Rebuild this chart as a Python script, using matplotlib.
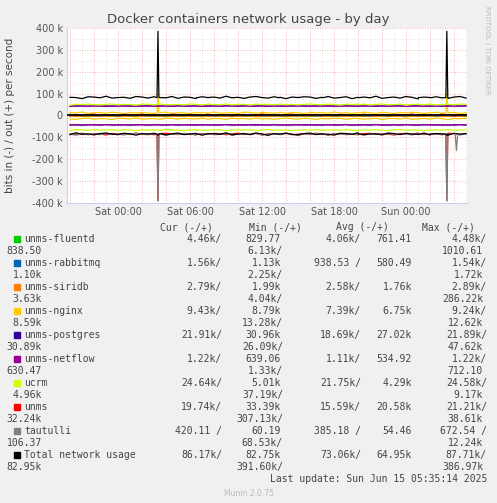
import numpy as np
import matplotlib
matplotlib.use("Agg")
import matplotlib.pyplot as plt

# ---- data ----
hours = [h * 0.5 for h in range(-8, 59)]          # hours relative to Sat 00:00 (67 points)
jitter = [2, -3, 1, 4, -2, 0, 3, -4, 1, 2, -1, 5, -3, 0, 2, -2, 4, 1, -5, 2,
          0, 3, -1, -3, 2, 4, -2, 1, 0, -4, 3, 2, -1, 5, -2, 0, 1, -3, 4, 2,
          -2, 3, 0, -1, 4, -3, 2, 1, -4, 3, 0, 2, -2, 5, -1, 1, -3, 2, 4, 0,
          -2, 3, 1, -4, 2, 0, 3]
gap_hours = [6.6, 13.4, 17.1, 20.1, 25.1, 26.1]
spike_hours = [3.33, 27.4]

series_names = ["unms-fluentd", "unms-rabbitmq", "unms-siridb", "unms-nginx", "unms-postgres",
                "unms-netflow", "ucrm", "unms", "tautulli", "Total network usage"]
series_colors = ["#00CC00", "#0066B3", "#FF8000", "#FFCC00", "#330099",
                 "#990099", "#CCFF00", "#FF0000", "#808080", "#000000"]
out_level = [4, 1, 3, 12, 43, 43, 50, 2, 1, 82]        # k, positive side
in_level = [-4, -1, -3, -15, -43, -43, -67, -85, -86, -85]  # k, negative side
jit_scale = [0.1, 0.05, 0.3, 0.8, 0.3, 0.3, 0.6, 1.0, 1.0, 1.2]
spike_out = [0, 0, 0, 100, 0, 0, 60, 0, 0, 385]
spike_in = [0, 0, 0, 0, 0, 0, 0, -390, -390, -90]

cur1 = ["4.46k/", "1.56k/", "2.79k/", "9.43k/", "21.91k/", "1.22k/", "24.64k/", "19.74k/", "420.11 /", "86.17k/"]
min1 = ["829.77", "1.13k", "1.99k", "8.79k", "30.96k", "639.06", "5.01k", "33.39k", "60.19", "82.75k"]
avg1 = ["4.06k/", "938.53 /", "2.58k/", "7.39k/", "18.69k/", "1.11k/", "21.75k/", "15.59k/", "385.18 /", "73.06k/"]
avg2 = ["761.41", "580.49", "1.76k", "6.75k", "27.02k", "534.92", "4.29k", "20.58k", "54.46", "64.95k"]
max1 = ["4.48k/", "1.54k/", "2.89k/", "9.24k/", "21.89k/", "1.22k/", "24.58k/", "21.21k/", "672.54 /", "87.71k/"]
wrap1 = ["838.50", "1.10k", "3.63k", "8.59k", "30.89k", "630.47", "4.96k", "32.24k", "106.37", "82.95k"]
wrap2 = ["6.13k/", "2.25k/", "4.04k/", "13.28k/", "26.09k/", "1.33k/", "37.19k/", "307.13k/", "68.53k/", "391.60k/"]
wrap3 = ["1010.61", "1.72k", "286.22k", "12.62k", "47.62k", "712.10", "9.17k", "38.61k", "12.24k", "386.97k"]

xticks = [0, 6, 12, 18, 24]
xticklabels = ["Sat 00:00", "Sat 06:00", "Sat 12:00", "Sat 18:00", "Sun 00:00"]
yticks = [-400, -300, -200, -100, 0, 100, 200, 300, 400]

# ---- figure ----
W, H = 497, 503
fig = plt.figure(figsize=(W / 100, H / 100), dpi=100, facecolor="#F0F0F0")
ax = fig.add_axes([67 / W, 1 - 203 / H, 400 / W, 175 / H], facecolor="white")
xmin, xmax = -4.25, 29.08
ax.set_xlim(xmin, xmax)
ax.set_ylim(-400, 400)

# grid
for h in np.arange(-4, 30, 1):
    ax.axvline(h, color="#DDDDDD" if h % 2 else "#F2A0A0", lw=0.6, ls=(0, (1, 2)), zorder=0)
for v in range(-400, 401, 50):
    ax.axhline(v, color="#F2A0A0" if v % 100 == 0 else "#DDDDDD", lw=0.6, ls=(0, (1, 2)), zorder=0)


def build(level, scale, shift, spike):
    t = list(hours)
    y = [level + scale * jitter[(i + shift) % len(jitter)] for i in range(len(hours))]
    for sh in spike_hours:
        if spike:
            t += [sh - 0.08, sh, sh + 0.08]
            y += [level, spike, level]
    for g in gap_hours:
        t += [g - 0.05, g, g + 0.05]
        y += [level, np.nan, level]
    order = np.argsort(t, kind="stable")
    return np.array(t)[order], np.array(y, dtype=float)[order]


for i in range(len(series_names)):
    t, y = build(out_level[i], jit_scale[i], i * 3, spike_out[i])
    ax.plot(t, y, color=series_colors[i], lw=0.9, zorder=2 + i)
    t, y = build(in_level[i], jit_scale[i], i * 5 + 7, spike_in[i])
    ax.plot(t, y, color=series_colors[i], lw=0.9, zorder=2 + i)
ax.plot([28.1, 28.2, 28.3], [-86, -160, -86], color="#808080", lw=0.9, zorder=11)
ax.axhline(0, color="black", lw=1.2, zorder=12)

ax.set_xticks(xticks)
ax.set_xticklabels(xticklabels, fontsize=7, color="#555555")
ax.set_yticks(yticks)
ax.set_yticklabels([f"{v} k" if v != 0 else "0" for v in yticks], fontsize=7, color="#555555")
ax.tick_params(length=0, pad=3)
for s in ax.spines.values():
    s.set_visible(False)
ax.spines["left"].set_visible(True)
ax.spines["bottom"].set_visible(True)
ax.spines["left"].set_color("#CCCCFF")
ax.spines["bottom"].set_color("#CCCCFF")

fig.text(248 / W, 1 - 19 / H, "Docker containers network usage - by day",
         ha="center", va="center", fontsize=9.5, color="#444444")
fig.text(10 / W, 1 - 115 / H, "bits in (-) / out (+) per second", rotation=90,
         ha="center", va="center", fontsize=7.5, color="#444444")
fig.text(487 / W, 1 - 50 / H, "RRDTOOL / TOBI OETIKER", rotation=270,
         ha="center", va="center", fontsize=5, color="#BBBBBB")

# ---- legend ----
mono = dict(family="DejaVu Sans Mono", fontsize=7, color="#444444", va="center")


def ft(x, y, s, ha="left"):
    fig.text(x / W, 1 - y / H, s, ha=ha, **mono)


ft(213, 227, "Cur (-/+)", "right")
ft(302, 227, "Min (-/+)", "right")
ft(389, 227, "Avg (-/+)", "right")
ft(475, 227, "Max (-/+)", "right")
for i, name in enumerate(series_names):
    y1 = 239 + 24 * i
    y2 = y1 + 12
    fig.patches.append(plt.Rectangle((14 / W, 1 - (y1 + 3) / H), 6 / W, 6 / H,
                                     transform=fig.transFigure, color=series_colors[i]))
    ft(24, y1, name)
    ft(222, y1, cur1[i], "right")
    ft(281, y1, min1[i], "right")
    ft(361, y1, avg1[i], "right")
    ft(412, y1, avg2[i], "right")
    ft(487, y1, max1[i], "right")
    ft(42, y2, wrap1[i], "right")
    ft(283, y2, wrap2[i], "right")
    ft(483, y2, wrap3[i], "right")
ft(487, 479, "Last update: Sun Jun 15 05:35:14 2025", "right")
fig.text(0.5, 1 - 493 / H, "Munin 2.0.75", ha="center", va="center", fontsize=5.5, color="#BBBBBB")

fig.savefig("out.png", dpi=100, facecolor=fig.get_facecolor())
